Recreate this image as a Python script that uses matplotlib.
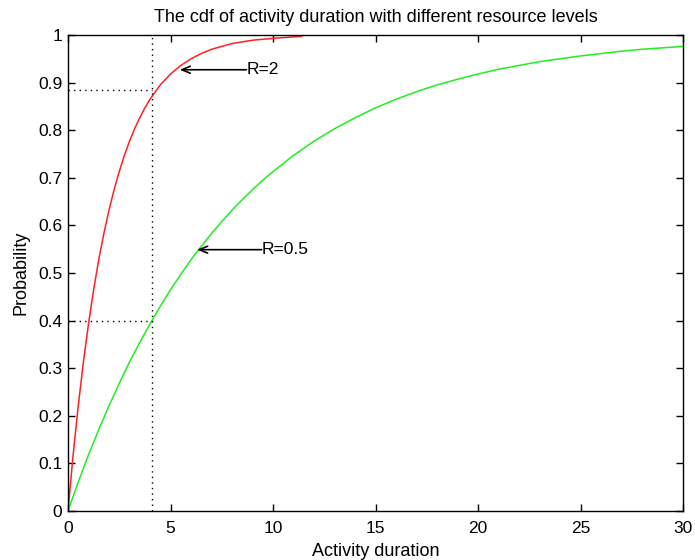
import matplotlib
matplotlib.use("Agg")
import matplotlib.pyplot as plt

# Values
red_x = [0, 0.25, 0.5, 0.75, 1, 1.25, 1.5, 1.75, 2, 2.25, 2.5, 2.75, 3, 3.25, 3.5, 3.75, 4, 4.5,
         5, 5.5, 6, 6.5, 7, 7.5, 8, 9, 10, 11, 11.4]
red_y = [0, 0.118, 0.221, 0.313, 0.393, 0.465, 0.528, 0.583, 0.632, 0.675, 0.713, 0.747, 0.777,
         0.803, 0.826, 0.847, 0.865, 0.895, 0.918, 0.936, 0.950, 0.961, 0.970, 0.976, 0.982,
         0.989, 0.993, 0.996, 0.997]
green_x = [0, 0.5, 1, 1.5, 2, 2.5, 3, 3.5, 4, 4.5, 5, 5.5, 6, 6.5, 7, 7.5, 8, 8.5, 9, 9.5, 10,
           11, 12, 13, 14, 15, 16, 17, 18, 19, 20, 21, 22, 23, 24, 25, 26, 27, 28, 29, 30]
green_y = [0, 0.061, 0.118, 0.171, 0.221, 0.268, 0.313, 0.354, 0.393, 0.430, 0.465, 0.497, 0.528,
           0.556, 0.583, 0.608, 0.632, 0.654, 0.675, 0.695, 0.713, 0.747, 0.777, 0.803, 0.826,
           0.847, 0.865, 0.881, 0.895, 0.907, 0.918, 0.928, 0.936, 0.944, 0.950, 0.956, 0.961,
           0.966, 0.970, 0.973, 0.976]
mark_x = 4.1
mark_red = 0.885
mark_green = 0.40
labels = ["R=2", "R=0.5"]
arrow_tips = [(5.45, 0.927), (6.3, 0.549)]
text_pos = [(8.7, 0.927), (9.45, 0.549)]
xticks = [0, 5, 10, 15, 20, 25, 30]
yticks = [0, 0.1, 0.2, 0.3, 0.4, 0.5, 0.6, 0.7, 0.8, 0.9, 1]
ytick_labels = ["0", "0.1", "0.2", "0.3", "0.4", "0.5", "0.6", "0.7", "0.8", "0.9", "1"]

plt.rcParams['font.family'] = ['Liberation Sans', 'DejaVu Sans']

fig = plt.figure(figsize=(6.95, 5.6), dpi=100)
ax = fig.add_axes([68/695, 49/560, 615/695, 476/560])

ax.plot(red_x, red_y, color='#ff2020', lw=1.1)
ax.plot(green_x, green_y, color='#20ee20', lw=1.1)

ax.plot([mark_x, mark_x], [0, 1], color='black', lw=1, ls=(0, (1, 3)))
ax.plot([0, mark_x], [mark_red, mark_red], color='black', lw=1, ls=(0, (1, 3)))
ax.plot([0, mark_x], [mark_green, mark_green], color='black', lw=1, ls=(0, (1, 3)))

for lab, tip, tp in zip(labels, arrow_tips, text_pos):
    ax.annotate('', xy=tip, xytext=tp,
                arrowprops=dict(arrowstyle='->,head_length=0.6,head_width=0.25', color='black', lw=1.2,
                                shrinkA=0, shrinkB=0))
    ax.text(tp[0], tp[1], lab, ha='left', va='center', fontsize=12.5)

ax.set_xlim(0, 30)
ax.set_ylim(0, 1)
ax.set_xticks(xticks)
ax.set_yticks(yticks)
ax.set_yticklabels(ytick_labels)
ax.tick_params(direction='in', top=True, right=True, labelsize=12.5, length=5, width=1, pad=4)
ax.tick_params(axis='x', pad=7.5)
for s in ax.spines.values():
    s.set_linewidth(1)
ax.set_xlabel('Activity duration', fontsize=13, labelpad=5)
ax.set_ylabel('Probability', fontsize=13, labelpad=6)
ax.set_title('The cdf of activity duration with different resource levels', fontsize=13, pad=9)

fig.savefig('out.png', dpi=100)
